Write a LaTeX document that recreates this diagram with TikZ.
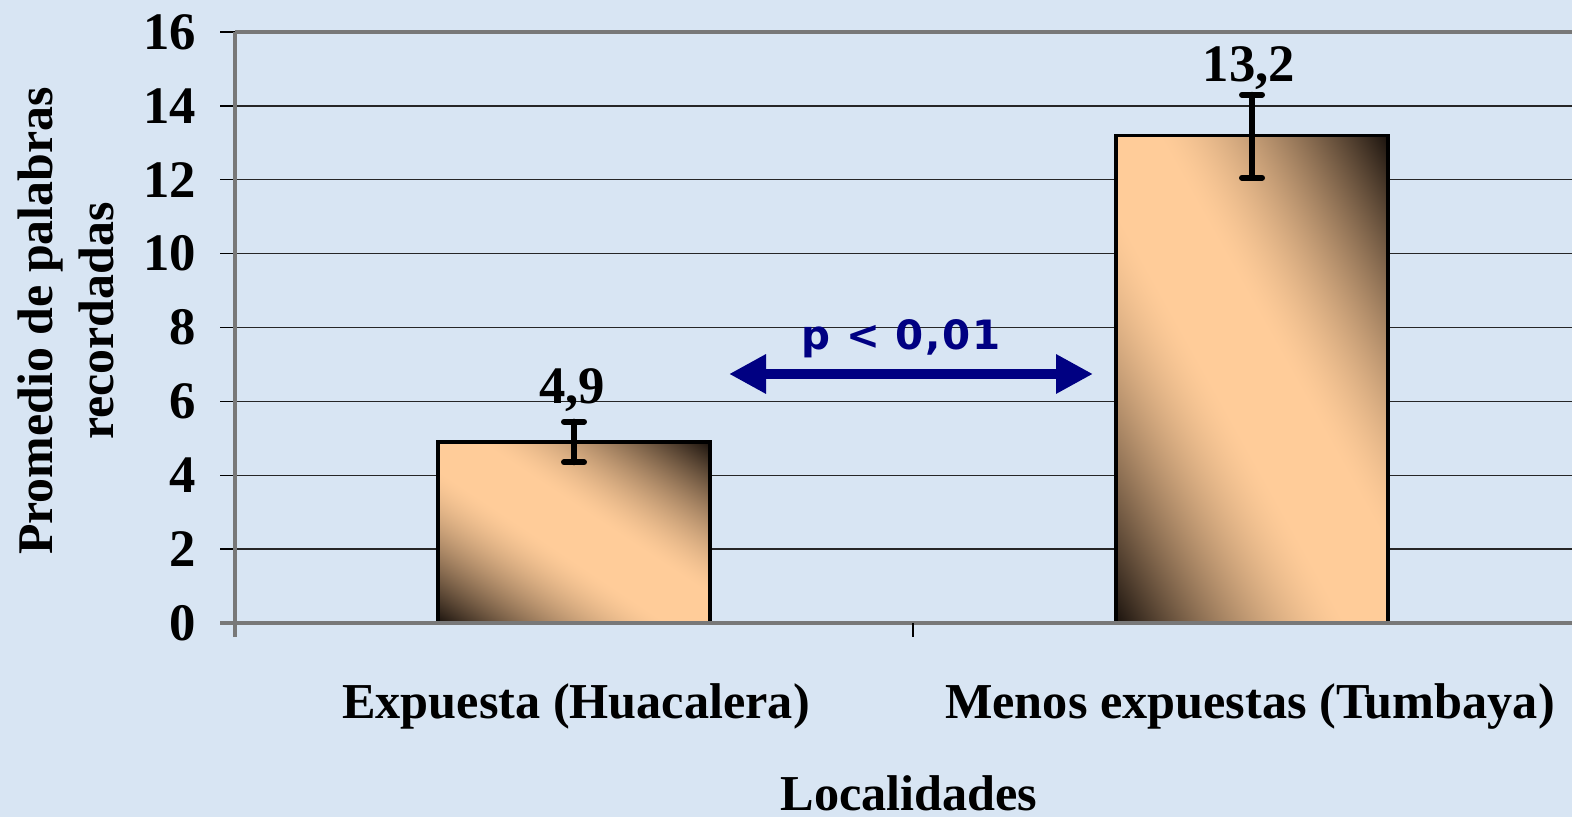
\documentclass[tikz,border=0pt]{standalone}
\usepackage{fontspec}
\setmainfont{Liberation Serif}
\newfontfamily\pfont[LetterSpace=4]{DejaVu Sans}
\usetikzlibrary{arrows.meta}

\definecolor{bgblue}{RGB}{216,229,243}
\definecolor{pnavy}{RGB}{0,0,130}
\definecolor{axisgray}{RGB}{120,120,120}

% peach in the middle, dark brown in the lower left and upper right corners
\pgfdeclarefunctionalshading{barshade}{\pgfpointorigin}{\pgfpoint{100bp}{100bp}}{}{
  add 50 sub 100 div
  0.5 sub abs 2 mul
  0.15 sub 0.85 div
  dup 0 lt {pop 0} if
  dup 1 gt {pop 1} if
  dup sqrt mul
  dup 0.9 mul 1 exch sub
  exch dup 0.73 mul 0.8 exch sub
  exch 0.55 mul 0.6 exch sub
}

\tikzset{
  gridline/.style={black!85, line width=0.4pt},
  axisline/.style={axisgray, line width=1.1pt},
  tickline/.style={black, line width=0.4pt},
  bar/.style={draw=black, line width=0.9pt, shading=barshade},
  errbar/.style={black, line width=1.7pt, line cap=round},
  ticklabel/.style={anchor=east, inner sep=0pt, font=\fontsize{15}{18}\selectfont\bfseries},
  vallabel/.style={anchor=base, inner sep=0pt, font=\fontsize{15}{18}\selectfont\bfseries},
  catlabel/.style={anchor=base, inner sep=0pt, font=\fontsize{14.3}{17}\selectfont\bfseries},
}

\begin{document}
\begin{tikzpicture}[x=0.1mm,y=0.1mm]
\useasboundingbox (0,0) rectangle (1572,817);
\fill[bgblue] (0,0) rectangle (1572,817);

% data scope: one unit = 36.94 px, value 0 at y = 194
\begin{scope}[shift={(0,194)}, y=3.694mm]
  \foreach \v in {2,4,...,14}
    \draw[gridline] (235,\v) -- (1572,\v);
  \draw[axisline] (235,16) -- (1572,16);
  \foreach \v in {0,2,...,16} {
    \draw[tickline] (220,\v) -- (235,\v);
    \node[ticklabel] (t\v) at (197,\v) {\v};
  }

  \draw[bar] (438,0) rectangle (710,4.9);
  \draw[bar] (1116,0) rectangle (1388,13.2);

  \draw[axisline] (235,-0.38) -- (235,16);
  \draw[axisline] (220,0) -- (1572,0);
  \draw[tickline] (913,0) -- (913,-0.38);

  \draw[errbar] (574,4.35) -- (574,5.45);
  \draw[errbar] (564,4.35) -- (584,4.35);
  \draw[errbar] (564,5.45) -- (584,5.45);
  \draw[errbar] (1252,12.05) -- (1252,14.3);
  \draw[errbar] (1242,12.05) -- (1262,12.05);
  \draw[errbar] (1242,14.3) -- (1262,14.3);
\end{scope}

\node[vallabel] (v1) at (572,413) {4,9};
\node[vallabel] (v2) at (1249,735) {13,2};

\node[catlabel] (c1) at (576,98) {Expuesta (Huacalera)};
\node[catlabel] (c2) at (1250,98) {Menos expuestas (Tumbaya)};
\node[catlabel] (xt) at (909,6) {Localidades};

\node[rotate=90, align=center, inner sep=0pt,
      font=\fontsize{14.2}{17.3}\selectfont\bfseries] (yt) at (66,496)
      {Promedio de palabras\\recordadas};

% significance arrow
\coordinate (pl) at (729,443);
\coordinate (pr) at (1093,443);
\draw[pnavy, line width=3pt,
      {Triangle[length=3.7mm,width=3.7mm]}-{Triangle[length=3.7mm,width=3.7mm]}] (pl) -- (pr);
\node[anchor=base, inner sep=0pt, text=pnavy,
      font=\pfont\fontsize{11.5}{13}\selectfont\bfseries] (pv) at (901,467) {p < 0,01};

\end{tikzpicture}
\end{document}
